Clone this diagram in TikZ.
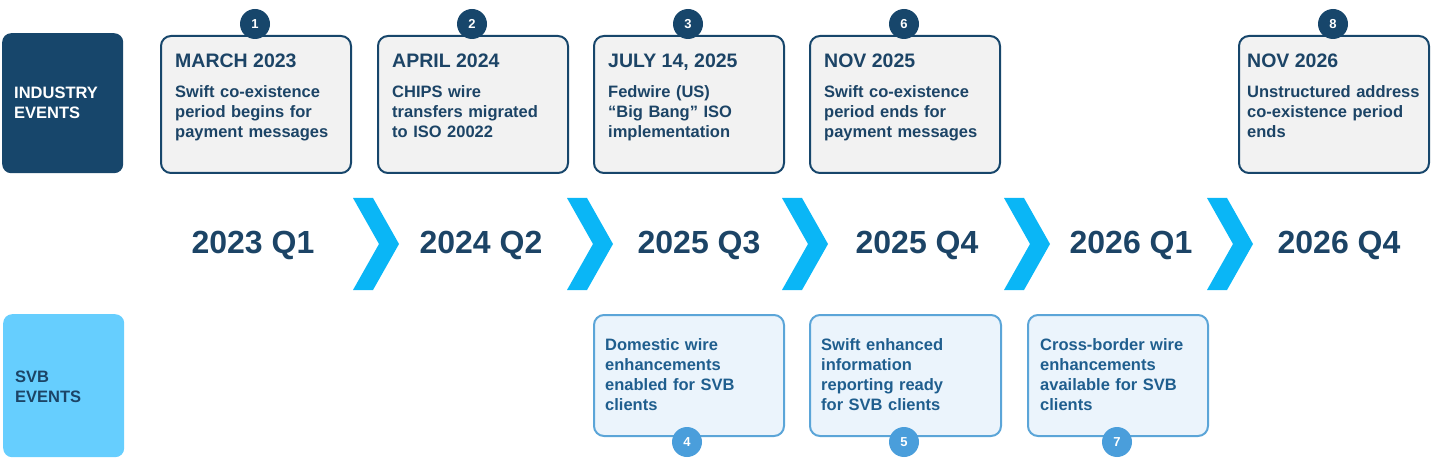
\documentclass[tikz,border=0pt]{standalone}
\usepackage{fontspec}
\setmainfont{Liberation Sans}
\definecolor{navy}{HTML}{17466B}
\definecolor{navytext}{HTML}{1C4466}
\definecolor{boxgray}{HTML}{F2F2F2}
\definecolor{chev}{HTML}{0AB6F6}
\definecolor{svbfill}{HTML}{66CEFE}
\definecolor{lbfill}{HTML}{EBF4FC}
\definecolor{lbdraw}{HTML}{5BA5D8}
\definecolor{lbcirc}{HTML}{4A9EDB}
\definecolor{lbtext}{HTML}{1F5E8E}
\begin{document}
\begin{tikzpicture}[x=1pt,y=-1pt,
  topbox/.style={draw=navy,line width=2pt,fill=boxgray,rounded corners=10pt,anchor=north west,inner sep=0pt,minimum width=190pt,minimum height=137pt},
  botbox/.style={draw=lbdraw,line width=2pt,fill=lbfill,rounded corners=10pt,anchor=north west,inner sep=0pt,minimum height=121pt},
  topnum/.style={circle,fill=navy,text=white,inner sep=0pt,minimum size=30pt,font=\bfseries\fontsize{13}{13}\selectfont},
  botnum/.style={circle,fill=lbcirc,text=white,inner sep=0pt,minimum size=30pt,font=\bfseries\fontsize{13}{13}\selectfont},
  ttitle/.style={anchor=base west,inner sep=0pt,text=navytext,font=\bfseries\fontsize{19.5}{20}\selectfont},
  tbody/.style={anchor=base west,inner sep=0pt,text=navytext,align=left,text width=180pt,font=\bfseries\fontsize{16.5}{20}\selectfont},
  bbody/.style={anchor=base west,inner sep=0pt,text=lbtext,align=left,text width=180pt,font=\bfseries\fontsize{16.5}{20}\selectfont},
  yearlab/.style={inner sep=0pt,text=navytext,font=\bfseries\fontsize{32}{32}\selectfont},
  catbox/.style={rounded corners=9pt,anchor=north west,inner sep=0pt,minimum width=121pt},
]
\useasboundingbox (0,0) rectangle (1440,473);

% category boxes
\node[catbox,fill=navy,minimum height=140pt] (ind) at (2,33) {};
\node[anchor=base west,inner sep=0pt,text=white,align=left,text width=110pt,font=\bfseries\fontsize{16.5}{20}\selectfont] (indlab) at (14,99) {INDUSTRY\\EVENTS};
\node[catbox,fill=svbfill,minimum height=143pt] (svb) at (3,314) {};
\node[anchor=base west,inner sep=0pt,text=navytext,align=left,text width=110pt,font=\bfseries\fontsize{16.5}{20}\selectfont] (svblab) at (15,382) {SVB\\EVENTS};

% chevrons
\foreach \cx [count=\i] in {353,567,782,1004,1207}{
  \fill[chev] (\cx,198) -- (\cx+20,198) -- (\cx+46,244) -- (\cx+20,290) -- (\cx,290) -- (\cx+26,244) -- cycle;
}

% year labels
\node[yearlab] (y1) at (253,245) {2023 Q1};
\node[yearlab] (y2) at (481,245) {2024 Q2};
\node[yearlab] (y3) at (699,245) {2025 Q3};
\node[yearlab] (y4) at (917,245) {2025 Q4};
\node[yearlab] (y5) at (1131,245) {2026 Q1};
\node[yearlab] (y6) at (1339,245) {2026 Q4};

% top boxes
\node[topbox] (b1) at (160,35) {};
\node[ttitle] (b1t) at (175,68) {MARCH 2023};
\node[tbody] (b1b) at (175,98) {Swift co-existence\\period begins for\\payment messages};
\node[topnum] (n1) at (255,24) {1};

\node[topbox] (b2) at (377,35) {};
\node[ttitle] (b2t) at (392,68) {APRIL 2024};
\node[tbody] (b2b) at (392,98) {CHIPS wire\\transfers migrated\\to ISO 20022};
\node[topnum] (n2) at (472,24) {2};

\node[topbox] (b3) at (593,35) {};
\node[ttitle] (b3t) at (608,68) {JULY 14, 2025};
\node[tbody] (b3b) at (608,98) {Fedwire (US)\\“Big Bang” ISO\\implementation};
\node[topnum] (n3) at (688,24) {3};

\node[topbox] (b6) at (809,35) {};
\node[ttitle] (b6t) at (824,68) {NOV 2025};
\node[tbody] (b6b) at (824,98) {Swift co-existence\\period ends for\\payment messages};
\node[topnum] (n6) at (904,24) {6};

\node[topbox] (b8) at (1238,35) {};
\node[ttitle] (b8t) at (1247,68) {NOV 2026};
\node[tbody] (b8b) at (1247,98) {Unstructured address\\co-existence period\\ends};
\node[topnum] (n8) at (1333,24) {8};

% bottom boxes
\node[botbox,minimum width=190pt] (b4) at (593,314) {};
\node[bbody] (b4b) at (605,350) {Domestic wire\\enhancements\\enabled for SVB\\clients};
\node[botnum] (n4) at (687,442) {4};

\node[botbox,minimum width=191pt] (b5) at (809,314) {};
\node[bbody] (b5b) at (821,350) {Swift enhanced\\information\\reporting ready\\for SVB clients};
\node[botnum] (n5) at (904,442) {5};

\node[botbox,minimum width=180pt] (b7) at (1027,314) {};
\node[bbody] (b7b) at (1040,350) {Cross-border wire\\enhancements\\available for SVB\\clients};
\node[botnum] (n7) at (1117,442) {7};
\end{tikzpicture}
\end{document}
